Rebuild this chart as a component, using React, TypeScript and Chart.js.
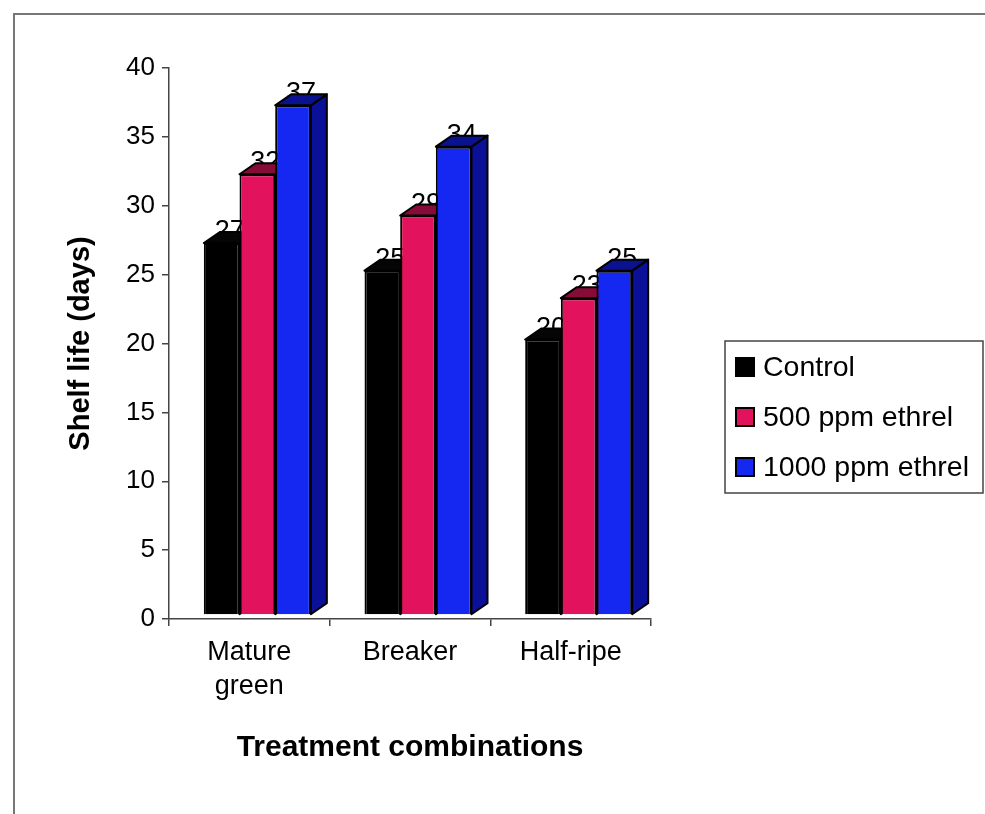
import React, { useEffect, useRef } from "react";
import { Chart, registerables } from "chart.js";

Chart.register(...registerables);

// Ripening stages on the category axis
const stages: (string | string[])[] = [["Mature", "green"], "Breaker", "Half-ripe"];

// Shelf life in days for each treatment
const seriesNames = ["Control", "500 ppm ethrel", "1000 ppm ethrel"];
const controlDays = [27, 25, 20];
const ethrel500Days = [32, 29, 23];
const ethrel1000Days = [37, 34, 25];

// Value axis range
const yMin = 0;
const yMax = 40;
const yStep = 5;

const FONT = 'Arial, "Liberation Sans", sans-serif';

// Front / top / side shades of each column
const palette = [
  { front: "#000000", top: "#050505", side: "#000000" },
  { front: "#e2125c", top: "#860b36", side: "#960f40" },
  { front: "#1428f2", top: "#0a1290", side: "#0a1098" },
];

// Pseudo-3D depth of the columns and their placement behind the axis plane
const DEPTH_X = 16;
const DEPTH_Y = -11;
const SHIFT_X = 8;
const SHIFT_Y = -4;

function face(ctx: CanvasRenderingContext2D, pts: number[][], fill: string) {
  ctx.beginPath();
  ctx.moveTo(pts[0][0], pts[0][1]);
  for (let k = 1; k < pts.length; k++) ctx.lineTo(pts[k][0], pts[k][1]);
  ctx.closePath();
  ctx.fillStyle = fill;
  ctx.fill();
  ctx.lineWidth = 2;
  ctx.strokeStyle = "#000";
  ctx.stroke();
}

// Draws each column with its side and top faces, painting left to right so
// that later columns overlap earlier ones and their value labels.
const columns3d = {
  id: "columns3d",
  beforeDatasetsDraw(chart: any) {
    const ctx: CanvasRenderingContext2D = chart.ctx;
    ctx.save();
    ctx.translate(SHIFT_X, SHIFT_Y);
    ctx.lineJoin = "round";
    const n = chart.data.labels.length;
    for (let i = 0; i < n; i++) {
      chart.data.datasets.forEach((ds: any, d: number) => {
        const meta = chart.getDatasetMeta(d);
        const el = meta.data[i];
        if (!el) return;
        const { x, y, base, width } = el.getProps(["x", "y", "base", "width"], true);
        const left = x - width / 2;
        const right = x + width / 2;
        const c = palette[d];

        ctx.font = `27px ${FONT}`;
        ctx.fillStyle = "#000";
        ctx.textAlign = "center";
        ctx.textBaseline = "alphabetic";
        ctx.fillText(String(ds.data[i]), x + DEPTH_X / 2, y - 4);

        el.draw(ctx);

        face(ctx, [[right, y], [right + DEPTH_X, y + DEPTH_Y], [right + DEPTH_X, base + DEPTH_Y], [right, base]], c.side);
        face(ctx, [[left, y], [left + DEPTH_X, y + DEPTH_Y], [right + DEPTH_X, y + DEPTH_Y], [right, y]], c.top);
      });
    }
    ctx.restore();
    return false;
  },
};

// Boxed legend to the right of the plot
const boxedLegend = {
  id: "boxedLegend",
  afterDraw(chart: any) {
    const ctx: CanvasRenderingContext2D = chart.ctx;
    const bx = 725;
    const by = 341;
    const bw = 258;
    const bh = 152;
    ctx.save();
    ctx.strokeStyle = "#444";
    ctx.lineWidth = 1.5;
    ctx.strokeRect(bx, by, bw, bh);
    ctx.font = `28.5px ${FONT}`;
    ctx.textAlign = "left";
    ctx.textBaseline = "middle";
    chart.data.datasets.forEach((ds: any, d: number) => {
      const cy = by + 26 + d * 50;
      ctx.fillStyle = ds.backgroundColor;
      ctx.fillRect(736, cy - 9, 18, 18);
      ctx.strokeStyle = "#000";
      ctx.lineWidth = 2;
      ctx.strokeRect(736, cy - 9, 18, 18);
      ctx.fillStyle = "#000";
      ctx.fillText(ds.label, 763, cy + 1);
    });
    ctx.restore();
  },
};

export default function App() {
  const canvasRef = useRef<HTMLCanvasElement | null>(null);

  useEffect(() => {
    const canvas = canvasRef.current;
    if (!canvas) return;
    const values = [controlDays, ethrel500Days, ethrel1000Days];
    const chart = new Chart(canvas, {
      type: "bar",
      data: {
        labels: stages,
        datasets: seriesNames.map((name, d) => ({
          label: name,
          data: values[d],
          backgroundColor: palette[d].front,
          borderColor: "#000",
          borderWidth: 2,
          categoryPercentage: 0.666,
          barPercentage: 1,
        })),
      },
      options: {
        responsive: false,
        animation: false,
        devicePixelRatio: 1,
        layout: { padding: { left: 0, right: 334, top: 68, bottom: 0 } },
        plugins: {
          legend: { display: false },
          tooltip: { enabled: false },
        },
        scales: {
          x: {
            grid: {
              offset: true,
              drawOnChartArea: false,
              drawTicks: true,
              tickLength: 7,
              color: "#444",
              lineWidth: 1.5,
            },
            border: { display: true, color: "#444", width: 1.5 },
            ticks: {
              color: "#000",
              padding: 10,
              maxRotation: 0,
              autoSkip: false,
              font: { family: FONT, size: 27, lineHeight: 1.25 },
            },
            title: {
              display: true,
              text: "Treatment combinations",
              color: "#000",
              font: { family: FONT, size: 30, weight: "bold", lineHeight: 1.2 },
              padding: { top: 0, bottom: 48 },
            },
            afterFit(scale: any) {
              scale.height = 195;
            },
          },
          y: {
            min: yMin,
            max: yMax,
            ticks: {
              stepSize: yStep,
              color: "#000",
              padding: 7,
              font: { family: FONT, size: 26 },
            },
            grid: {
              drawOnChartArea: false,
              drawTicks: true,
              tickLength: 7,
              color: "#444",
              lineWidth: 1.5,
            },
            border: { display: true, color: "#444", width: 1.5 },
            title: {
              display: true,
              text: "Shelf life (days)",
              color: "#000",
              font: { family: FONT, size: 29, weight: "bold", lineHeight: 1.2 },
              padding: { top: 64, bottom: 0 },
            },
            afterFit(scale: any) {
              scale.width = 169;
            },
          },
        },
      },
      plugins: [columns3d, boxedLegend],
    } as any);
    return () => chart.destroy();
  }, []);

  return (
    <div style={{ position: "absolute", left: 0, top: 0, width: 985, height: 814, background: "#fff", overflow: "hidden" }}>
      <div
        style={{
          position: "absolute",
          left: 13,
          top: 13,
          width: 990,
          height: 820,
          borderTop: "2px solid #777",
          borderLeft: "2px solid #777",
        }}
      />
      <canvas ref={canvasRef} width={985} height={814} style={{ position: "absolute", left: 0, top: 0 }} />
    </div>
  );
}
